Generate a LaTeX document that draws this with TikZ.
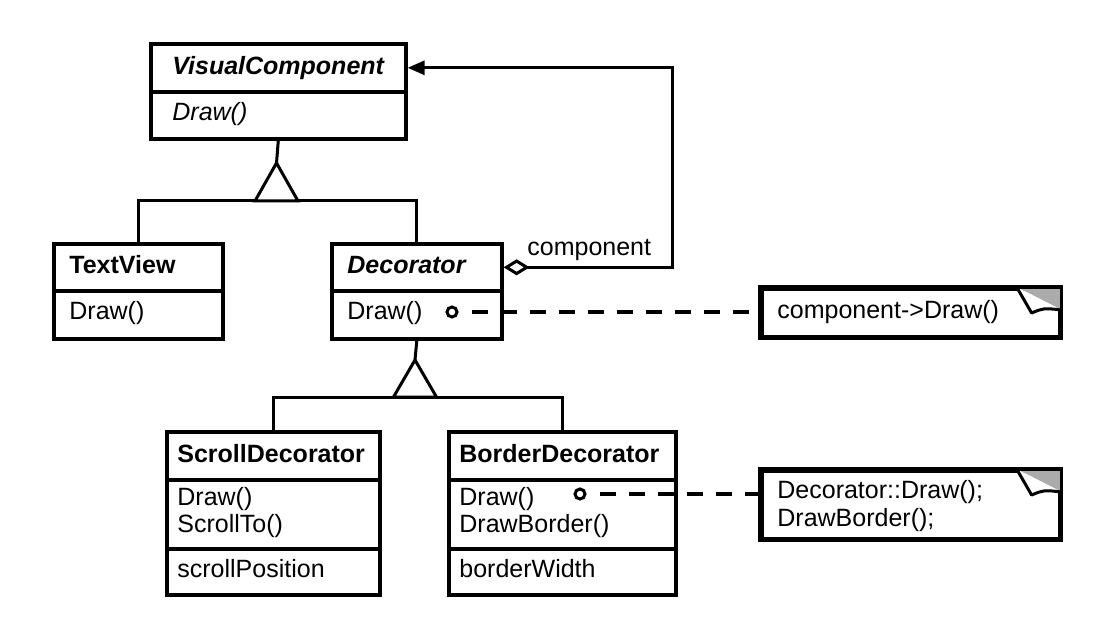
\documentclass[tikz,border=0pt]{standalone}
\usepackage{fontspec}
\setmainfont{Liberation Sans}
\usetikzlibrary{arrows.meta}
\tikzset{
  compart/.style={draw, line width=1.8pt, anchor=north west, inner sep=0pt},
  txt/.style={anchor=base west, inner sep=0pt, font=\fontsize{12.5}{15}\selectfont},
  link/.style={line width=1.5pt},
  notelink/.style={line width=1.6pt, dash pattern=on 8pt off 6.5pt, dash phase=8pt},
  pin/.style={circle, draw, line width=1.5pt, fill=white, inner sep=0pt, minimum size=5pt},
  fold/.style={fill=black!33},
  flap/.style={line width=1.5pt, fill=white, line join=round}
}
\newcommand{\compart}[5]{\node[compart, minimum width=#4*0.5pt, minimum height=#5*0.5pt] (#1) at (#2,#3) {};}
\newcommand{\lbl}[4]{\node[txt] (#1) at (#2,#3) {#4};}

\begin{document}
\begin{tikzpicture}[x=0.5pt, y=-0.5pt]
        \useasboundingbox (0,0) rectangle (1112,641);

        % class boxes
        \compart{vc1}{149}{42}{255}{48}
        \compart{vc2}{149}{90}{255}{47}
        \compart{tv1}{52}{242}{169}{47}
        \compart{tv2}{52}{289}{169}{48}
        \compart{dec1}{330}{242}{170}{47}
        \compart{dec2}{330}{289}{170}{48}
        \compart{sd1}{165}{430}{213}{48}
        \compart{sd2}{165}{478}{213}{69}
        \compart{sd3}{165}{547}{213}{46}
        \compart{bd1}{447}{430}{227}{48}
        \compart{bd2}{447}{478}{227}{69}
        \compart{bd3}{447}{547}{227}{46}

        % notes
        \compart{n1}{760}{287}{298}{48}
        \compart{n2}{760}{469}{298}{68}

        % texts
        \lbl{vcname}{172}{75}{\textbf{\textit{VisualComponent}}}
        \lbl{vcop}{172}{121}{\textit{Draw()}}
        \lbl{tvname}{69}{274}{\textbf{TextView}}
        \lbl{tvop}{69}{320}{Draw()}
        \lbl{decname}{347}{274}{\textbf{\textit{Decorator}}}
        \lbl{decop}{347}{320}{Draw()}
        \lbl{sdname}{177}{462}{\textbf{ScrollDecorator}}
        \lbl{sdopa}{177}{505}{Draw()}
        \lbl{sdopb}{177}{532}{ScrollTo()}
        \lbl{sdattr}{177}{577}{scrollPosition}
        \lbl{bdname}{459}{462}{\textbf{BorderDecorator}}
        \lbl{bdopa}{459}{505}{Draw()}
        \lbl{bdopb}{459}{532}{DrawBorder()}
        \lbl{bdattr}{459}{577}{borderWidth}
        \lbl{n1txt}{777}{319}{component->Draw()}
        \lbl{n2txta}{777}{498}{Decorator::Draw();}
        \lbl{n2txtb}{777}{526}{DrawBorder();}
        \lbl{role}{527}{256}{component}

        % inheritance
        \coordinate (tri1) at (276.5,163);
        \coordinate (base1) at (276.5,201);
        \draw[link] (vc2.south) -- (tri1);
        \draw[link] (tv1.north) |- (base1) -| (dec1.north);
        \draw[link, fill=white, line join=miter] (tri1) -- ++(-21.5,38) -- ++(43,0) -- cycle;

        \coordinate (tri2) at (415,360);
        \coordinate (base2) at (415,397);
        \draw[link] (dec2.south) -- (tri2);
        \draw[link] (sd1.north) |- (base2) -| (bd1.north);
        \draw[link, fill=white, line join=miter] (tri2) -- ++(-21.5,37) -- ++(43,0) -- cycle;

        % aggregation
        \draw[link, {Diamond[open, length=13pt, width=8pt]}-{Triangle[length=8.5pt, width=7pt]}]
            (dec1.east) -- ++(169,0) |- (vc1.east);

        % note links
        \node[pin] (p1) at (452,312) {};
        \node[pin] (p2) at (580,494) {};
        \draw[notelink] (p1) -- (p1 -| n1.west);
        \draw[notelink] (p2) -- (p2 -| n2.west);

        % folded corners
        \fill[fold] ([shift={(-45,0)}]n1.north east) -- (n1.north east) -- ([shift={(0,23)}]n1.north east) -- cycle;
        \draw[flap] ([shift={(-45,0)}]n1.north east) -- ([shift={(-30,26)}]n1.north east)
            .. controls ([shift={(-18,21)}]n1.north east) .. ([shift={(0,23)}]n1.north east);
        \fill[fold] ([shift={(-45,0)}]n2.north east) -- (n2.north east) -- ([shift={(0,23)}]n2.north east) -- cycle;
        \draw[flap] ([shift={(-45,0)}]n2.north east) -- ([shift={(-30,26)}]n2.north east)
            .. controls ([shift={(-18,21)}]n2.north east) .. ([shift={(0,23)}]n2.north east);
        \draw[line width=1.8pt] (n1.north west) rectangle (n1.south east);
        \draw[line width=1.8pt] (n2.north west) rectangle (n2.south east);
\end{tikzpicture}
\end{document}
